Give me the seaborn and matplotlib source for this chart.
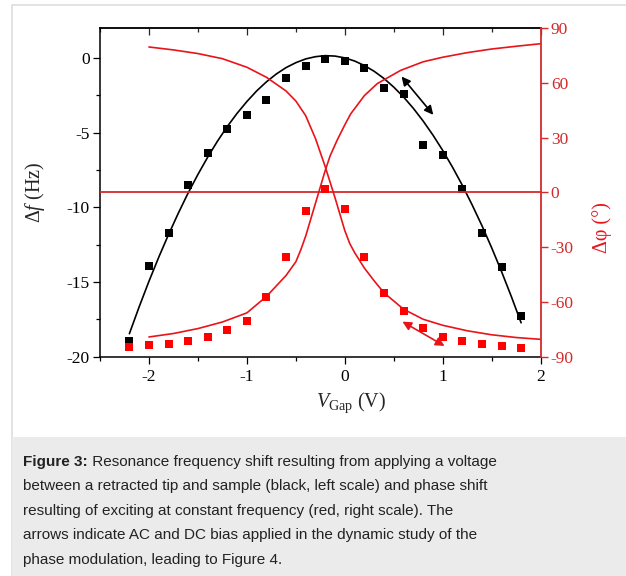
import matplotlib
matplotlib.use('Agg')
import matplotlib.pyplot as plt
import seaborn as sns
import pandas as pd
from matplotlib.patches import Rectangle
from matplotlib.ticker import MultipleLocator

v_meas = [-2.2, -2.0, -1.8, -1.6, -1.4, -1.2, -1.0, -0.8, -0.6, -0.4, -0.2,
          0.0, 0.2, 0.4, 0.6, 0.8, 1.0, 1.2, 1.4, 1.6, 1.8]
df_meas = [-18.97, -13.9, -11.69, -8.48, -6.39, -4.79, -3.81, -2.81, -1.32, -0.51, -0.09,
           -0.23, -0.71, -2.03, -2.43, -5.81, -6.5, -8.78, -11.69, -13.99, -17.28]
phase_meas = [-84.5, -83.4, -82.9, -81.4, -79.4, -75.3, -70.4, -57.2, -35.3, -10.2, 1.9,
              -9.1, -35.3, -55.2, -65.1, -74.4, -79.2, -81.4, -83.2, -84.3, -85.2]

# black fit curve (left scale)
v_fit = [-2.2, -2.1, -2.0, -1.9, -1.8, -1.7, -1.6, -1.5, -1.4, -1.3, -1.2, -1.1, -1.0,
         -0.9, -0.8, -0.7, -0.6, -0.5, -0.4, -0.3, -0.2, -0.1, 0.0, 0.1, 0.2, 0.3, 0.4,
         0.5, 0.6, 0.7, 0.8, 0.9, 1.0, 1.1, 1.2, 1.3, 1.4, 1.5, 1.6, 1.7, 1.8]
df_fit = [-18.46, -16.66, -14.95, -13.34, -11.82, -10.39, -9.04, -7.80, -6.64, -5.57,
          -4.59, -3.71, -2.92, -2.21, -1.60, -1.08, -0.65, -0.32, -0.07, 0.08, 0.15,
          0.12, 0.00, -0.21, -0.51, -0.90, -1.38, -1.96, -2.62, -3.38, -4.23, -5.17,
          -6.20, -7.32, -8.53, -9.84, -11.23, -12.72, -14.30, -15.97, -17.73]

# red phase curves (right scale)
v_down = [-2.0, -1.75, -1.5, -1.25, -1.0, -0.8, -0.6, -0.5, -0.4, -0.3, -0.2, -0.15,
          -0.1, -0.05, 0.0, 0.05, 0.1, 0.2, 0.3, 0.4, 0.6, 0.8, 1.0, 1.25, 1.5, 1.75, 2.0]
ph_down = [79.6, 78.0, 76.0, 73.2, 68.5, 63.0, 55.5, 50.0, 42.0, 29.5, 14.0, 5.5,
           -3.0, -12.0, -21.0, -28.0, -33.0, -41.5, -48.5, -55.0, -64.0, -69.5, -72.8,
           -75.8, -78.0, -79.5, -80.5]
v_up = [-2.0, -1.75, -1.5, -1.25, -1.0, -0.8, -0.6, -0.5, -0.45, -0.4, -0.3, -0.25,
        -0.2, -0.15, -0.08, 0.0, 0.06, 0.2, 0.33, 0.57, 0.8, 1.0, 1.25, 1.5, 1.75, 2.0]
ph_up = [-79.2, -77.3, -74.6, -71.0, -66.0, -57.0, -45.5, -38.0, -31.5, -24.0, -6.0, 3.0,
         12.0, 20.0, 28.4, 37.0, 43.0, 53.0, 59.5, 66.8, 71.5, 74.0, 76.5, 78.5, 80.0, 81.4]

# arrow end points
arrow_v_black = [0.579, 0.903]
arrow_df_black = [-1.25, -3.81]
arrow_v_red = [0.588, 1.018]
arrow_ph_red = [-70.8, -84.1]

caption_lines = [
    "between a retracted tip and sample (black, left scale) and phase shift",
    "resulting of exciting at constant frequency (red, right scale). The",
    "arrows indicate AC and DC bias applied in the dynamic study of the",
    "phase modulation, leading to Figure 4.",
]

sns.set_style('ticks')
plt.rcParams['font.family'] = ['Liberation Serif', 'DejaVu Serif']
plt.rcParams['mathtext.fontset'] = 'custom'
plt.rcParams['mathtext.rm'] = 'Liberation Serif'
plt.rcParams['mathtext.it'] = 'Liberation Serif:italic'
plt.rcParams['axes.unicode_minus'] = False

RED = '#e8141a'
RED_AX = '#d42a2a'
W, H = 626, 576

fig = plt.figure(figsize=(W / 100, H / 100), dpi=100)

# background frame and caption panel
fig.add_artist(Rectangle((12 / W, -0.1), 1, 571 / H + 0.1, transform=fig.transFigure,
                         fill=False, edgecolor='#dedede', lw=1.2))
fig.add_artist(Rectangle((12 / W, 0), 1, (H - 437) / H, transform=fig.transFigure,
                         facecolor='#ebebeb', edgecolor='none'))

ax = fig.add_axes([100 / W, 1 - 356.7 / H, 440.7 / W, 328.7 / H])
ax.patch.set_visible(False)

meas = pd.DataFrame({'V': v_meas, 'df': df_meas, 'phase': phase_meas})

sns.lineplot(x=v_fit, y=df_fit, ax=ax, color='black', lw=1.2)
sns.scatterplot(data=meas, x='V', y='df', ax=ax, marker='s', s=28, color='black',
                linewidth=0, zorder=3)
ax.annotate('', xy=(arrow_v_black[0], arrow_df_black[0]),
            xytext=(arrow_v_black[1], arrow_df_black[1]),
            arrowprops=dict(arrowstyle='<|-|>', color='black', lw=1.2,
                            mutation_scale=13, shrinkA=0, shrinkB=0))

ax2 = ax.twinx()
ax2.axhline(0, color=RED_AX, lw=1.3)
sns.lineplot(x=v_down, y=ph_down, ax=ax2, color=RED, lw=1.2)
sns.lineplot(x=v_up, y=ph_up, ax=ax2, color=RED, lw=1.2)
sns.scatterplot(data=meas, x='V', y='phase', ax=ax2, marker='s', s=36, color='#ff0000',
                linewidth=0, zorder=3)
ax2.annotate('', xy=(arrow_v_red[0], arrow_ph_red[0]),
             xytext=(arrow_v_red[1], arrow_ph_red[1]),
             arrowprops=dict(arrowstyle='<|-|>', color=RED, lw=1.2,
                             mutation_scale=13, shrinkA=0, shrinkB=0))

ax.set_xlim(-2.5, 2)
ax.set_ylim(-20, 2)
ax2.set_ylim(-90, 90)

ax.xaxis.set_major_locator(MultipleLocator(1))
ax.xaxis.set_minor_locator(MultipleLocator(0.5))
ax.yaxis.set_major_locator(MultipleLocator(5))
ax.yaxis.set_minor_locator(MultipleLocator(2.5))
ax2.yaxis.set_major_locator(MultipleLocator(30))

for s in ['left', 'bottom', 'top']:
    ax.spines[s].set_color('black')
    ax.spines[s].set_linewidth(1.1)
ax.spines['right'].set_visible(False)
for s in ['left', 'bottom', 'top']:
    ax2.spines[s].set_visible(False)
ax2.spines['right'].set_color(RED_AX)
ax2.spines['right'].set_linewidth(1.3)

ax.tick_params(which='major', direction='out', length=4.8, width=0.9, colors='black',
               labelsize=12.5, pad=2.5)
ax.tick_params(which='minor', direction='out', length=3, width=0.9, colors='black')
ax.tick_params(axis='x', which='major', pad=4)
ax2.tick_params(axis='y', which='major', direction='out', length=4.8, width=1.0,
                colors=RED_AX, labelsize=12.5, pad=2.5)

top = ax.secondary_xaxis('top')
top.xaxis.set_major_locator(MultipleLocator(1))
top.xaxis.set_minor_locator(MultipleLocator(0.5))
top.tick_params(which='major', direction='in', length=4.8, width=0.9, labeltop=False)
top.tick_params(which='minor', direction='in', length=3, width=0.9)
top.spines['top'].set_linewidth(1.1)

ax.set_xlabel(r'$V_{\rm Gap}$ (V)', fontsize=14.5)
ax.xaxis.set_label_coords(0.5707, -0.104)
ax.set_ylabel(r'Δ$f$ (Hz)', fontsize=14.5)
ax.yaxis.set_label_coords(-0.12, 0.5)
ax2.set_ylabel('Δφ (°)', fontsize=14.5, color=RED)
ax2.yaxis.set_label_coords(1.116, 0.3915)

# caption
cap = dict(family='Liberation Sans', size=11, color='#222222', ha='left', va='baseline')
base0, step = 466, 24.4
t = fig.text(23 / W, 1 - base0 / H, 'Figure 3:', fontweight='bold', **cap)
fig.canvas.draw()
bb = t.get_window_extent()
fig.text(bb.x1 / W, 1 - base0 / H, ' Resonance frequency shift resulting from applying a voltage', **cap)
for i, line in enumerate(caption_lines, start=1):
    fig.text(23 / W, 1 - (base0 + i * step) / H, line, **cap)

fig.savefig('out.png', dpi=100)
